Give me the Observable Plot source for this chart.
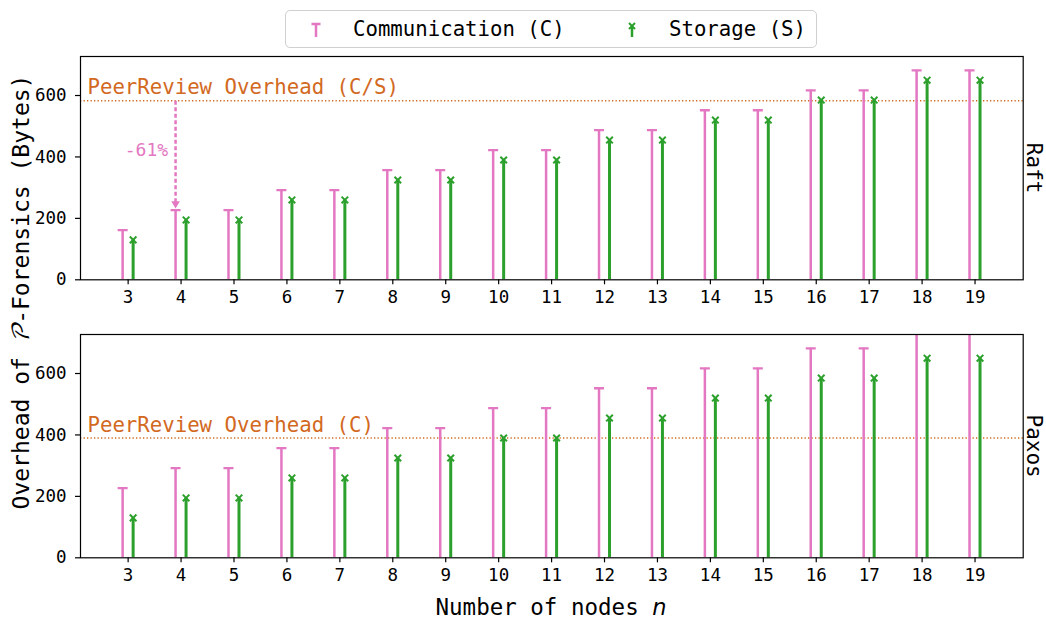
<!DOCTYPE html>
<html><head><meta charset="utf-8">
<script src="https://cdn.jsdelivr.net/npm/d3@7"></script>
<script src="https://cdn.jsdelivr.net/npm/@observablehq/plot@0.6"></script>
<style>
body{margin:0;background:#fff;}
#wrap{position:relative;width:1046px;height:619px;font-family:"DejaVu Sans Mono",monospace;color:#000;overflow:hidden;}
.panel{position:absolute;left:0;}
#legend{position:absolute;left:285px;top:10px;width:532px;height:38px;border:1.3px solid #d0d0d0;border-radius:5px;box-sizing:border-box;background:#fff;}
.lgtext{position:absolute;top:0;line-height:36px;font-size:20.7px;white-space:nowrap;}
.lgsym{position:absolute;top:10px;}
#ylab{position:absolute;left:22px;top:292px;transform:translate(-50%,-50%) rotate(-90deg);font-size:23px;white-space:nowrap;}
#xlab{position:absolute;left:551px;top:607px;transform:translate(-50%,-50%);font-size:22.5px;white-space:nowrap;}
</style>
</head><body>
<div id="wrap">
  <div id="legend">
    <svg class="lgsym" style="left:22px" width="16" height="16"><line x1="8" y1="3" x2="8" y2="16" stroke="#e377c2" stroke-width="2.5"/><line x1="3.5" y1="3" x2="12.5" y2="3" stroke="#e377c2" stroke-width="2.5"/></svg>
    <div class="lgtext" style="left:67px">Communication (C)</div>
    <svg class="lgsym" style="left:338px" width="16" height="16"><line x1="8" y1="5" x2="8" y2="16" stroke="#2ca02c" stroke-width="2.5"/><path d="M5,2L11,8M11,2L5,8" stroke="#2ca02c" stroke-width="2"/></svg>
    <div class="lgtext" style="left:383px">Storage (S)</div>
  </div>
  <div id="p1" class="panel" style="top:50px"></div>
  <div id="p2" class="panel" style="top:328px"></div>
  <div id="ylab">Overhead of <span style="font-family:'DejaVu Math TeX Gyre','Noto Sans Math','DejaVu Serif',serif;font-style:italic">𝒫</span>-Forensics (Bytes)</div>
  <div id="xlab">Number of nodes <span style="font-family:'DejaVu Sans';font-style:italic">n</span></div>
</div>
<script>
const nodes = [3,4,5,6,7,8,9,10,11,12,13,14,15,16,17,18,19];
const raftComm = [162,227,227,292,292,357,357,422,422,487,487,552,552,617,617,682,682];
const raftStor = [130,195,195,260,260,325,325,390,390,455,455,520,520,585,585,650,650];
const paxosComm = [227,292,292,357,357,422,422,487,487,552,552,617,617,682,682,747,747];
const paxosStor = [130,195,195,260,260,325,325,390,390,455,455,520,520,585,585,650,650];
const yTicks = [0,200,400,600];
const peerRaft = 583;
const peerPaxos = 390;
const peerRaftLabel = "PeerReview Overhead (C/S)";
const peerPaxosLabel = "PeerReview Overhead (C)";
const arrowFrom = 583, arrowTo = 248, arrowNode = 4, arrowLabel = "-61%", arrowLabelY = 421;

const pink = "#e377c2", green = "#2ca02c", orange = "#d2691e";

const capSymbol = {draw(ctx){ ctx.moveTo(-5,0); ctx.lineTo(5,0); }};
const xSymbol = {draw(ctx){ ctx.moveTo(-3.3,-3.3); ctx.lineTo(3.3,3.3); ctx.moveTo(3.3,-3.3); ctx.lineTo(-3.3,3.3); }};

function panel(comm, stor, peer, peerLabel, name, withArrow, labelDy) {
  const cData = nodes.map((n,i)=>({n, v: comm[i]}));
  const sData = nodes.map((n,i)=>({n, v: stor[i]}));
  const marks = [
    Plot.axisX(nodes, {tickSize: 5, tickPadding: 6, tickFormat: d=>String(d), fontSize: 17.5, label: null, stroke: "black", strokeWidth: 1.2}),
    Plot.axisY(yTicks, {tickSize: 5, tickPadding: 9, tickFormat: d=>String(d), fontSize: 17.5, label: null, stroke: "black", strokeWidth: 1.2}),
    Plot.ruleY([peer], {stroke: orange, strokeWidth: 1.3, strokeDasharray: "1.3,2.2"}),
    Plot.text([peerLabel], {frameAnchor: "left", y: peer, dx: 7, dy: labelDy, text: d=>d, fill: orange, fontSize: 20.7, textAnchor: "start"}),
    Plot.ruleX(cData, {x: "n", y1: 0, y2: "v", dx: -5.5, stroke: pink, strokeWidth: 2.5, clip: true}),
    Plot.dot(cData, {x: "n", y: "v", dx: -5.5, symbol: capSymbol, fill: "none", stroke: pink, strokeWidth: 2.3, clip: true}),
    Plot.ruleX(sData, {x: "n", y1: 0, y2: "v", dx: 5, stroke: green, strokeWidth: 3, clip: true}),
    Plot.dot(sData, {x: "n", y: "v", dx: 5, symbol: xSymbol, fill: "none", stroke: green, strokeWidth: 2, clip: true}),
    Plot.text([name], {frameAnchor: "right", dx: 11, rotate: 90, text: d=>d, fontSize: 21, textAnchor: "middle", fill: "black"}),
    Plot.frame({stroke: "black", strokeWidth: 1.2})
  ];
  if (withArrow) {
    marks.push(
      Plot.link([arrowNode], {x1: d=>d, x2: d=>d, y1: arrowFrom, y2: arrowTo, dx: -5.5, stroke: pink, strokeWidth: 2.5, strokeDasharray: "4,2.5"}),
      Plot.dot([arrowNode], {x: d=>d, y: arrowTo, dx: -5.5, symbol: "triangle", rotate: 180, r: 3.2, fill: pink, stroke: "none"}),
      Plot.text([arrowLabel], {x: arrowNode, y: arrowLabelY, dx: -13, text: d=>d, fill: pink, fontSize: 18, textAnchor: "end"})
    );
  }
  return Plot.plot({
    width: 1046, height: 260,
    marginLeft: 80, marginRight: 23.3, marginTop: 6, marginBottom: 30.7,
    style: {fontFamily: "DejaVu Sans Mono", fontSize: "17px", color: "black", background: "transparent"},
    x: {type: "linear", domain: [2.1, 19.91]},
    y: {domain: [0, 727]},
    marks
  });
}

document.getElementById("p1").appendChild(panel(raftComm, raftStor, peerRaft, peerRaftLabel, "Raft", true, -13));
document.getElementById("p2").appendChild(panel(paxosComm, paxosStor, peerPaxos, peerPaxosLabel, "Paxos", false, -13));
</script>
</body></html>
